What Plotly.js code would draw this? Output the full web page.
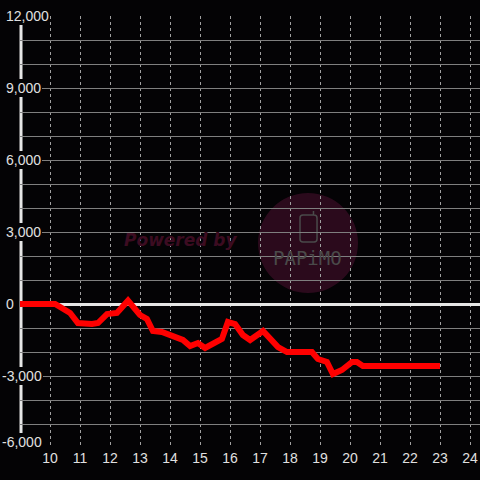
<!DOCTYPE html>
<html>
<head>
<meta charset="utf-8">
<script src="https://cdn.plot.ly/plotly-3.0.1.min.js"></script>
<style>html,body{margin:0;padding:0;background:#040305;}#chart{width:480px;height:480px;}</style>
</head>
<body>
<div id="chart"></div>
<script>
// Hours of the day (x) and cumulative result (y)
const hours = [9, 10, 10.17, 10.67, 10.93, 11.4, 11.6, 11.9, 12.23, 12.6, 12.77, 13.0, 13.23, 13.43, 13.73, 14.1, 14.43, 14.67, 14.93, 15.17, 15.43, 15.73, 15.93, 16.17, 16.43, 16.67, 17.1, 17.33, 17.6, 17.9, 18.23, 18.73, 18.93, 19.23, 19.43, 19.73, 20.07, 20.23, 20.43, 23.0];
const values = [0, 0, 0, -375, -792, -833, -792, -417, -375, 140, -125, -458, -625, -1125, -1167, -1375, -1500, -1750, -1625, -1833, -1625, -1458, -750, -833, -1292, -1500, -1125, -1417, -1792, -2000, -2000, -2000, -2292, -2417, -2917, -2750, -2417, -2417, -2583, -2583];
const xTickVals = [10, 11, 12, 13, 14, 15, 16, 17, 18, 19, 20, 21, 22, 23, 24];
const xTickText = ['10', '11', '12', '13', '14', '15', '16', '17', '18', '19', '20', '21', '22', '23', '24'];
const yTickVals = [12000, 9000, 6000, 3000, 0, -3000, -6000];
const yTickText = ['12,000', '9,000', '6,000', '3,000', '0', '-3,000', '-6,000'];

const bg = '#040305';
const labelColor = '#e0e0e0';

const annotations = yTickVals.map((v, i) => ({
  x: 0, xref: 'paper', y: v, yref: 'y',
  xanchor: 'left', yanchor: 'middle',
  xshift: yTickText[i].startsWith('-') ? -19 : -15,
  yshift: v === -6000 ? 6 : 0,
  text: yTickText[i], showarrow: false,
  font: {family: 'Liberation Sans, Arial, sans-serif', size: 14, color: labelColor},
  bgcolor: bg, borderpad: 1, borderwidth: 0
}));
annotations.push({
  x: 0.349, y: 0.4815, xref: 'paper', yref: 'paper', showarrow: false,
  text: '<b><i>Powered by</i></b>',
  font: {family: 'DejaVu Sans', size: 17, color: '#3c0c21'}
});
annotations.push({
  x: 0.625, y: 0.44, xref: 'paper', yref: 'paper', showarrow: false,
  text: 'PAPiMO',
  font: {family: 'DejaVu Sans Mono', size: 19, color: '#4a4a4a'}
});

const shapes = [
  {type: 'circle', xref: 'paper', yref: 'paper', x0: 0.5174, x1: 0.7348, y0: 0.3588, y1: 0.5903,
   fillcolor: '#2b0a1c', line: {width: 0}, layer: 'below'},
  {type: 'path', xref: 'paper', yref: 'paper', layer: 'below',
   path: 'M 0.6087 0.4838 L 0.6087 0.5325 Q 0.6087 0.5394 0.6152 0.5394 L 0.6391 0.5394 Q 0.6457 0.5394 0.6457 0.5325 L 0.6457 0.4838 Q 0.6457 0.4769 0.6391 0.4769 L 0.6152 0.4769 Q 0.6087 0.4769 0.6087 0.4838 Z M 0.6380 0.5394 L 0.6380 0.5486',
   line: {color: '#4a4a4a', width: 1.5}},
  {type: 'line', xref: 'paper', yref: 'y', x0: 0.0022, x1: 0.0022, y0: -6000, y1: 12000,
   line: {color: '#e6e6e6', width: 3}, layer: 'between'}
];

const trace = {
  x: hours, y: values, type: 'scatter', mode: 'lines',
  line: {color: '#ff0000', width: 6},
  hoverinfo: 'skip', cliponaxis: false
};

const layout = {
  width: 480, height: 480,
  margin: {l: 20, r: 0, t: 16, b: 32},
  paper_bgcolor: bg, plot_bgcolor: bg,
  showlegend: false,
  xaxis: {
    range: [9, 24.333], tickvals: xTickVals, ticktext: xTickText,
    showgrid: true, gridcolor: '#a0a0a0', griddash: 'dot', gridwidth: 1,
    zeroline: false, showline: false, ticks: '',
    tickfont: {family: 'Liberation Sans, Arial, sans-serif', size: 14, color: labelColor}
  },
  yaxis: {
    range: [-6000, 12000], dtick: 1000, tick0: 0,
    showgrid: true, gridcolor: '#7f7f7f', gridwidth: 1,
    zeroline: true, zerolinecolor: '#e6e6e6', zerolinewidth: 3,
    showticklabels: false, showline: false, ticks: ''
  },
  shapes: shapes,
  annotations: annotations
};

Plotly.newPlot('chart', [trace], layout, {staticPlot: true, displayModeBar: false});
</script>
</body>
</html>
